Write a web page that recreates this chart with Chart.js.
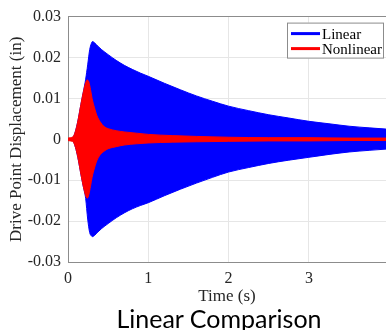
<!DOCTYPE html>
<html>
<head>
<meta charset="utf-8">
<script src="https://cdn.jsdelivr.net/npm/chart.js@4.4.0/dist/chart.umd.min.js"></script>
<style>
  html, body { margin: 0; padding: 0; background: #fff; }
  #wrap { width: 386px; height: 330px; position: relative; }
  #title {
    position: absolute; left: 0; width: 438px; top: 304px;
    text-align: center; font: 25px Lato, "Open Sans", sans-serif; color: #000;
    line-height: 28px; white-space: nowrap;
  }
</style>
</head>
<body>
<div id="wrap"><canvas id="chart"></canvas><div id="title">Linear Comparison</div></div>
<script>
// envelope of the linear response (upper / lower edge of the oscillation)
const linTime  = [0, 0.04, 0.07, 0.10, 0.13, 0.16, 0.19, 0.22, 0.245, 0.27, 0.29, 0.305, 0.33, 0.37, 0.42, 0.5, 0.6, 0.7, 0.8, 0.9, 1.0, 1.2, 1.4, 1.6, 1.8, 2.0, 2.25, 2.5, 2.75, 3.0, 3.25, 3.5, 3.75, 3.96];
const linUpper = [0, 0.0001, 0.0007, 0.0025, 0.0052, 0.0085, 0.0115, 0.0147, 0.0182, 0.0219, 0.0234, 0.0239, 0.0236, 0.0228, 0.0219, 0.0207, 0.0193, 0.0181, 0.0171, 0.0162, 0.0154, 0.0137, 0.0121, 0.0106, 0.0093, 0.0081, 0.0070, 0.0060, 0.0052, 0.0044, 0.0038, 0.0032, 0.0028, 0.0025];
const linLower = [0, -0.0001, -0.0007, -0.0025, -0.0052, -0.0085, -0.0115, -0.0145, -0.0195, -0.0228, -0.0236, -0.0238, -0.0235, -0.0227, -0.0218, -0.0206, -0.0192, -0.0180, -0.0170, -0.0162, -0.0155, -0.0138, -0.0122, -0.0107, -0.0093, -0.0080, -0.0069, -0.0059, -0.0051, -0.0044, -0.0037, -0.0031, -0.0027, -0.0024];

// envelope of the nonlinear response
const nonTime  = [0, 0.03, 0.05, 0.07, 0.10, 0.13, 0.16, 0.19, 0.22, 0.24, 0.26, 0.28, 0.30, 0.33, 0.36, 0.40, 0.45, 0.5, 0.6, 0.7, 0.85, 1.0, 1.3, 1.6, 2.0, 2.5, 3.0, 3.5, 3.96];
const nonUpper = [0.0003, 0.0004, 0.0005, 0.0008, 0.0025, 0.0052, 0.0085, 0.0115, 0.0138, 0.0145, 0.0140, 0.0122, 0.0100, 0.0077, 0.0058, 0.0043, 0.0031, 0.0026, 0.0021, 0.0018, 0.0015, 0.0012, 0.0009, 0.0007, 0.0005, 0.0004, 0.0004, 0.0003, 0.0003];
const nonLower = [-0.0003, -0.0004, -0.0005, -0.0008, -0.0025, -0.0052, -0.0085, -0.0115, -0.0138, -0.0144, -0.0135, -0.0115, -0.0093, -0.0070, -0.0052, -0.0038, -0.0029, -0.0023, -0.0018, -0.0014, -0.0011, -0.0009, -0.0007, -0.0006, -0.0005, -0.0004, -0.0004, -0.0003, -0.0003];

const seriesNames  = ['Linear', 'Nonlinear'];
const seriesColors = ['#0000ff', '#ff0000'];

const xTicks = [0, 1, 2, 3];
const xTickLabels = ['0', '1', '2', '3'];
const yTicks = [-0.03, -0.02, -0.01, 0, 0.01, 0.02, 0.03];
const yTickLabels = ['-0.03', '-0.02', '-0.01', '0', '0.01', '0.02', '0.03'];

const serif = '"Liberation Serif", "Times New Roman", serif';
const axisGrey = '#8c8c8c';

const pairs = (xs, ys) => xs.map((x, i) => ({ x, y: ys[i] }));

function band(label, color, times, vals, fill) {
  return {
    label,
    data: pairs(times, vals),
    borderColor: color,
    backgroundColor: color,
    borderWidth: 1,
    pointRadius: 0,
    cubicInterpolationMode: 'monotone',
    fill
  };
}

// red drawn on top of blue -> red datasets first
const datasets = [
  band(seriesNames[1], seriesColors[1], nonTime, nonUpper, '+1'),
  band(seriesNames[1] + ' low', seriesColors[1], nonTime, nonLower, false),
  band(seriesNames[0], seriesColors[0], linTime, linUpper, '+1'),
  band(seriesNames[0] + ' low', seriesColors[0], linTime, linLower, false)
];

// legend box inside the axes, top right (MATLAB style)
const insideLegend = {
  id: 'insideLegend',
  afterDraw(chart) {
    const ctx = chart.ctx;
    const a = chart.chartArea;
    const w = 97, h = 36;
    const x = a.right - w - 2, y = a.top + 6;
    ctx.save();
    ctx.fillStyle = '#fff';
    ctx.fillRect(x, y, w, h);
    ctx.strokeStyle = axisGrey;
    ctx.lineWidth = 1;
    ctx.strokeRect(x + 0.5, y + 0.5, w - 1, h - 1);
    ctx.font = '15px ' + serif;
    ctx.textBaseline = 'middle';
    seriesNames.forEach((name, i) => {
      const cy = y + 11 + i * 15;
      ctx.strokeStyle = seriesColors[i];
      ctx.lineWidth = 3;
      ctx.beginPath();
      ctx.moveTo(x + 4, cy);
      ctx.lineTo(x + 33, cy);
      ctx.stroke();
      ctx.fillStyle = '#000';
      ctx.fillText(name, x + 35, cy + 1);
    });
    ctx.restore();
  }
};

new Chart(document.getElementById('chart'), {
  type: 'line',
  data: { datasets },
  options: {
    responsive: true,
    maintainAspectRatio: false,
    animation: false,
    layout: { padding: { top: 13, right: 0, bottom: 24, left: 0 } },
    plugins: {
      legend: { display: false },
      tooltip: { enabled: false },
      title: { display: false }
    },
    scales: {
      x: {
        type: 'linear',
        min: 0,
        max: 3.96,
        afterBuildTicks: s => { s.ticks = xTicks.map(v => ({ value: v })); },
        afterFit: s => { s.height = 44; },
        ticks: {
          callback: v => xTickLabels[xTicks.indexOf(v)],
          font: { family: serif, size: 16 },
          color: '#262626',
          padding: 7,
          maxRotation: 0
        },
        grid: { color: '#e6e6e6', drawTicks: false },
        border: { color: axisGrey },
        title: {
          display: true,
          text: 'Time (s)',
          font: { family: serif, size: 17 },
          color: '#262626',
          padding: { top: 0, bottom: -1 }
        }
      },
      y: {
        min: -0.03,
        max: 0.03,
        afterBuildTicks: s => { s.ticks = yTicks.map(v => ({ value: v })); },
        afterFit: s => { s.width = 68; },
        ticks: {
          callback: v => yTickLabels[yTicks.indexOf(v)],
          font: { family: serif, size: 16 },
          color: '#262626',
          padding: 7
        },
        grid: {
          color: c => (c.tick && c.tick.value === 0.03 ? axisGrey : '#e6e6e6'),
          drawTicks: false
        },
        border: { color: axisGrey },
        title: {
          display: true,
          text: 'Drive Point Displacement (in)',
          font: { family: serif, size: 17 },
          color: '#262626',
          padding: { top: 6, bottom: 0 }
        }
      }
    }
  },
  plugins: [insideLegend]
});
</script>
</body>
</html>
